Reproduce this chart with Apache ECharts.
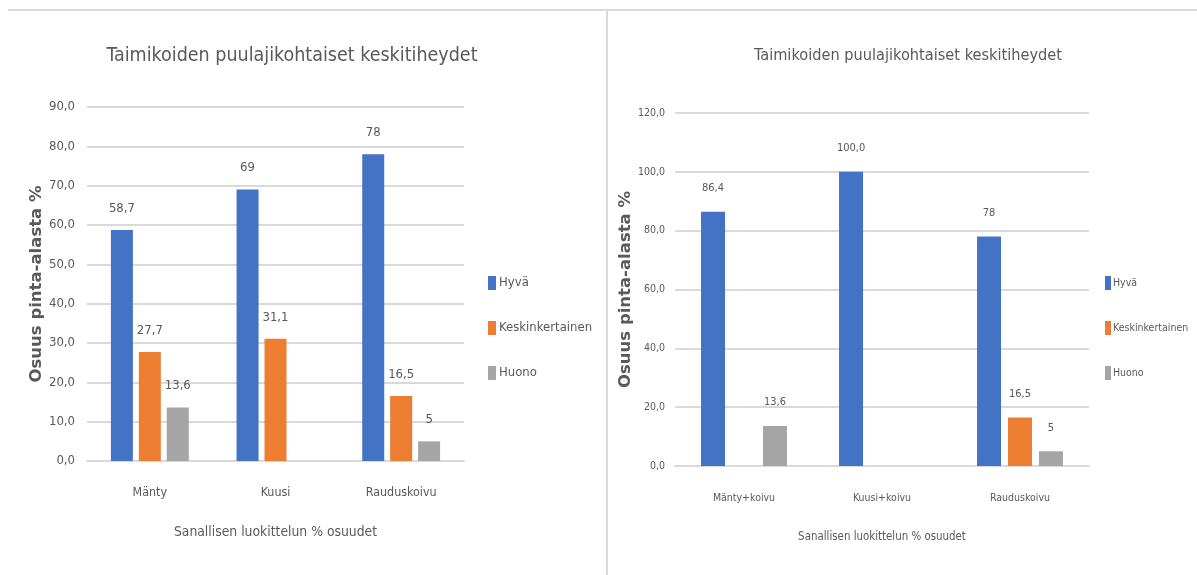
<!DOCTYPE html>
<html>
<head>
<meta charset="utf-8">
<script src="https://cdn.jsdelivr.net/npm/echarts@6/dist/echarts.min.js"></script>
<style>
html,body{margin:0;padding:0;background:#fff;}
#c{width:1197px;height:575px;}
</style>
</head>
<body>
<div id="c"></div>
<script>
// ---- data ----
var titleText = 'Taimikoiden puulajikohtaiset keskitiheydet';
var yAxisName = 'Osuus pinta-alasta %';
var xAxisName = 'Sanallisen luokittelun % osuudet';
var seriesNames = ['Hyvä', 'Keskinkertainen', 'Huono'];

var leftCategories = ['Mänty', 'Kuusi', 'Rauduskoivu'];
var leftHyva = [58.7, 69, 78];
var leftKeski = [27.7, 31.1, 16.5];
var leftHuono = [13.6, null, 5];

var rightCategories = ['Mänty+koivu', 'Kuusi+koivu', 'Rauduskoivu'];
var rightHyva = [86.4, 100.0, 78];
var rightKeski = [null, null, 16.5];
var rightHuono = [13.6, null, 5];
var rightHyvaLabels = ['86,4', '100,0', '78'];

var colors = ['#4472C4', '#ED7D31', '#A5A5A5'];
var FONT = "'Liberation Sans Narrow','DejaVu Sans Condensed','Roboto Condensed','Liberation Sans',sans-serif";
var TXT = '#595959';

function fmtComma(v) { return String(v).replace('.', ','); }
function tick1(v) { return v.toFixed(1).replace('.', ','); }

function barSeries(name, data, idx, color, fs, dist, bw, gap, labels) {
  return {
    type: 'bar', name: name, data: data,
    xAxisIndex: idx, yAxisIndex: idx,
    barWidth: bw, barGap: gap,
    itemStyle: { color: color },
    label: {
      show: true, position: 'top', distance: dist,
      color: TXT, fontFamily: FONT, fontSize: fs,
      formatter: function (p) { return labels ? labels[p.dataIndex] : fmtComma(p.value); }
    }
  };
}

var chart = echarts.init(document.getElementById('c'));
chart.setOption({
  animation: false,
  backgroundColor: '#fff',
  title: [
    { text: titleText, left: 287, top: 41, textAlign: 'center',
      textStyle: { fontFamily: FONT, fontSize: 19.5, fontWeight: 'normal', color: TXT } },
    { text: titleText, left: 903, top: 43, textAlign: 'center',
      textStyle: { fontFamily: FONT, fontSize: 16.2, fontWeight: 'normal', color: TXT } }
  ],
  legend: [
    { orient: 'vertical', left: 483, top: 271, itemWidth: 8, itemHeight: 14, itemGap: 31,
      icon: 'rect', data: seriesNames,
      textStyle: { fontFamily: FONT, fontSize: 13, color: TXT, padding: [0,0,0,-2] } },
    { orient: 'vertical', left: 1100, top: 271, itemWidth: 6, itemHeight: 14, itemGap: 31,
      icon: 'rect', data: seriesNames,
      textStyle: { fontFamily: FONT, fontSize: 10.5, color: TXT, padding: [0,0,0,-3] } }
  ],
  graphic: [
    { type: 'line', shape: { x1: 8, y1: 10, x2: 1197, y2: 10 }, style: { stroke: '#d9d9d9', lineWidth: 2 } },
    { type: 'line', shape: { x1: 607, y1: 10, x2: 607, y2: 575 }, style: { stroke: '#d9d9d9', lineWidth: 2 } }
  ],
  grid: [
    { left: 87, right: 733, top: 107, bottom: 114 },
    { left: 675, right: 108, top: 113, bottom: 109 }
  ],
  xAxis: [
    { type: 'category', gridIndex: 0, data: leftCategories,
      axisLine: { lineStyle: { color: '#d9d9d9', width: 2 } }, axisTick: { show: false },
      axisLabel: { margin: 26, color: TXT, fontFamily: FONT, fontSize: 12.4 },
      name: xAxisName, nameLocation: 'middle', nameGap: 64,
      nameTextStyle: { color: TXT, fontFamily: FONT, fontSize: 13.8 } },
    { type: 'category', gridIndex: 1, data: rightCategories,
      axisLine: { lineStyle: { color: '#d9d9d9', width: 2 } }, axisTick: { show: false },
      axisLabel: { margin: 27, color: TXT, fontFamily: FONT, fontSize: 10.5 },
      name: xAxisName, nameLocation: 'middle', nameGap: 66,
      nameTextStyle: { color: TXT, fontFamily: FONT, fontSize: 11.4 } }
  ],
  yAxis: [
    { type: 'value', gridIndex: 0, min: 0, max: 90, interval: 10,
      axisLine: { show: false }, axisTick: { show: false },
      splitLine: { lineStyle: { color: '#d9d9d9', width: 2 } },
      axisLabel: { margin: 12, color: TXT, fontFamily: FONT, fontSize: 13, formatter: tick1 },
      name: yAxisName, nameLocation: 'middle', nameGap: 36.5, nameRotate: 90,
      nameTextStyle: { color: TXT, fontFamily: "'DejaVu Sans',sans-serif", fontSize: 16.5, fontWeight: 'bold' } },
    { type: 'value', gridIndex: 1, min: 0, max: 120, interval: 20,
      axisLine: { show: false }, axisTick: { show: false },
      splitLine: { lineStyle: { color: '#d9d9d9', width: 2 } },
      axisLabel: { margin: 10, color: TXT, fontFamily: FONT, fontSize: 10.5, formatter: tick1 },
      name: yAxisName, nameLocation: 'middle', nameGap: 34, nameRotate: 90,
      nameTextStyle: { color: TXT, fontFamily: "'DejaVu Sans',sans-serif", fontSize: 16.5, fontWeight: 'bold' } }
  ],
  series: [
    barSeries(seriesNames[0], leftHyva, 0, colors[0], 13, 15, 22, '27%'),
    barSeries(seriesNames[1], leftKeski, 0, colors[1], 13, 15, 22, '27%'),
    barSeries(seriesNames[2], leftHuono, 0, colors[2], 13, 15, 22, '27%'),
    barSeries(seriesNames[0], rightHyva, 1, colors[0], 11, 18, 24, '29%', rightHyvaLabels),
    barSeries(seriesNames[1], rightKeski, 1, colors[1], 11, 18, 24, '29%'),
    barSeries(seriesNames[2], rightHuono, 1, colors[2], 11, 18, 24, '29%')
  ]
});
</script>
</body>
</html>
